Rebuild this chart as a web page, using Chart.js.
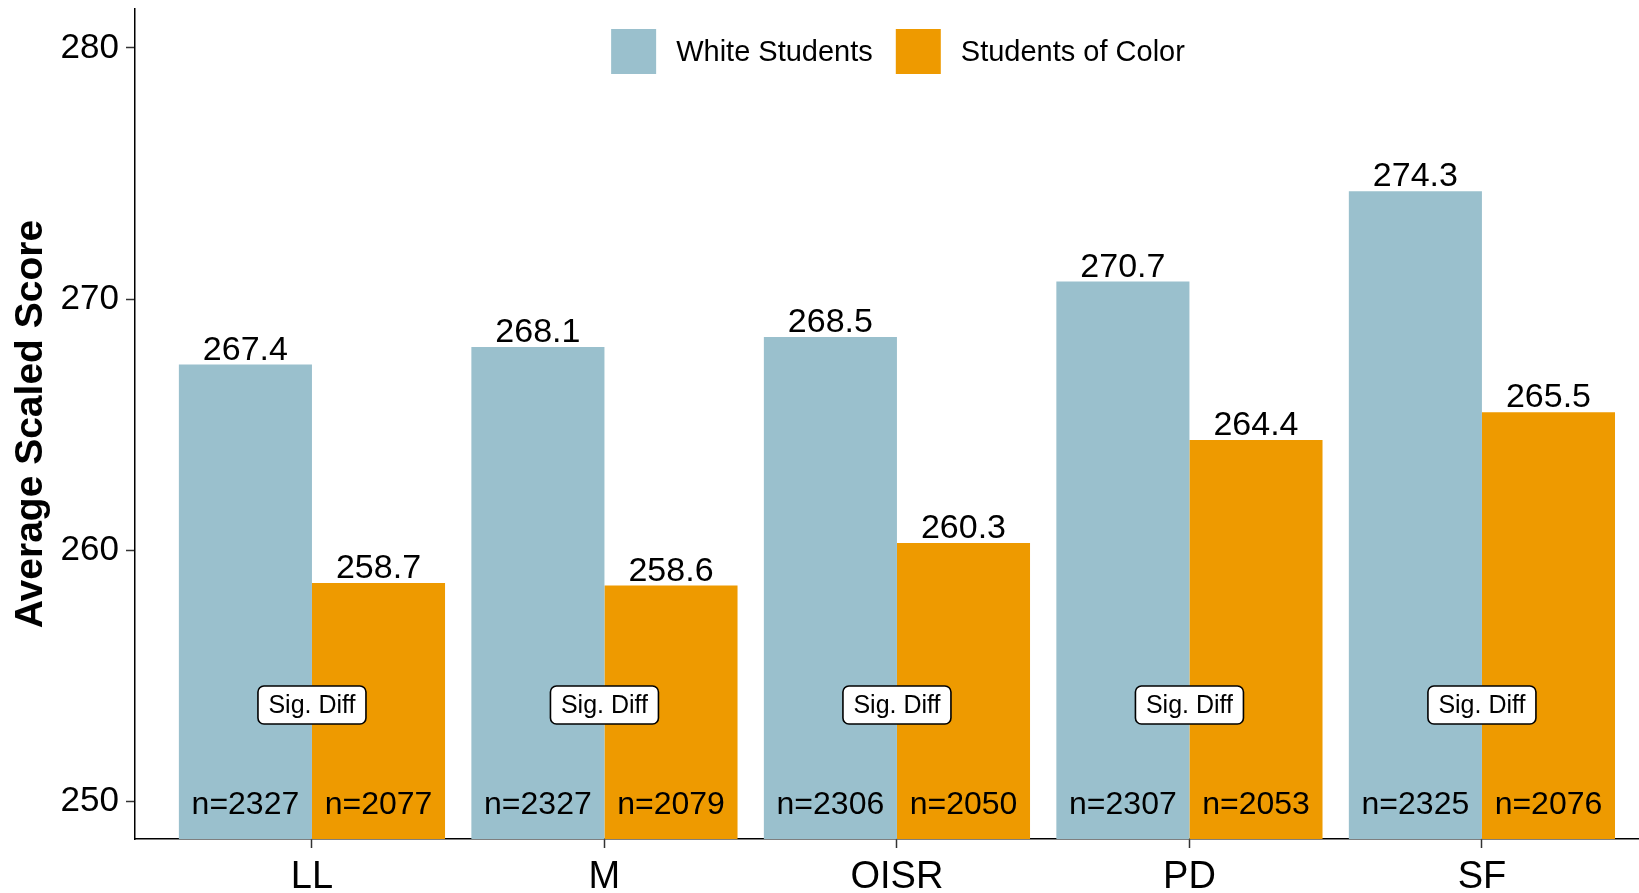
<!DOCTYPE html>
<html><head><meta charset="utf-8">
<script src="https://cdn.jsdelivr.net/npm/chart.js@4"></script>
<style>html,body{margin:0;padding:0;background:#fff;overflow:hidden}</style>
</head><body>
<canvas id="c" width="1639" height="893"></canvas>
<script>
const categories = ['LL', 'M', 'OISR', 'PD', 'SF'];
const whiteScores = [267.4, 268.1, 268.5, 270.7, 274.3];
const colorScores = [258.7, 258.6, 260.3, 264.4, 265.5];
const whiteN = [2327, 2327, 2306, 2307, 2325];
const colorN = [2077, 2079, 2050, 2053, 2076];
const sigDiff = [true, true, true, true, true];
const seriesNames = ['White Students', 'Students of Color'];
const seriesColors = ['#9AC0CD', '#EE9A00'];
const yTicks = [250, 260, 270, 280];
const sigLabelValue = 253.85;
const nLabelValue = 250;

const FONT = '"Liberation Sans", Arial, sans-serif';
Chart.defaults.font.family = FONT;
Chart.defaults.color = '#000';

const annot = {
  id: 'annot',
  afterDatasetsDraw(chart) {
    const ctx = chart.ctx, ys = chart.scales.y, xs = chart.scales.x;
    const vals = [whiteScores, colorScores], ns = [whiteN, colorN];
    ctx.save();
    ctx.fillStyle = '#000';
    ctx.textAlign = 'center';
    ctx.textBaseline = 'alphabetic';
    [0, 1].forEach(d => {
      chart.getDatasetMeta(d).data.forEach((bar, i) => {
        ctx.font = '34px ' + FONT;
        ctx.fillText(vals[d][i].toFixed(1), bar.x, bar.y - 5);
        ctx.font = '32px ' + FONT;
        ctx.fillText('n=' + ns[d][i], bar.x, ys.getPixelForValue(nLabelValue) + 12);
      });
    });
    categories.forEach((c, i) => {
      if (!sigDiff[i]) return;
      const cx = xs.getPixelForValue(i), cy = ys.getPixelForValue(sigLabelValue);
      const w = 108, h = 38;
      ctx.beginPath();
      ctx.roundRect(cx - w / 2, cy - h / 2, w, h, 6);
      ctx.fillStyle = '#fff';
      ctx.fill();
      ctx.lineWidth = 1.6;
      ctx.strokeStyle = '#000';
      ctx.stroke();
      ctx.fillStyle = '#000';
      ctx.font = '25px ' + FONT;
      ctx.textBaseline = 'middle';
      ctx.fillText('Sig. Diff', cx, cy + 1);
      ctx.textBaseline = 'alphabetic';
    });
    // legend
    ctx.font = '29px ' + FONT;
    const box = 45, gap = 20, spacing = 23;
    const w1 = ctx.measureText(seriesNames[0]).width, w2 = ctx.measureText(seriesNames[1]).width;
    const total = box + gap + w1 + spacing + box + gap + w2;
    let x = 898 - total / 2;
    const top = 29;
    ctx.textAlign = 'left';
    ctx.textBaseline = 'middle';
    [0, 1].forEach(d => {
      ctx.fillStyle = seriesColors[d];
      ctx.fillRect(x, top, box, box);
      ctx.fillStyle = '#000';
      ctx.fillText(seriesNames[d], x + box + gap, top + box / 2 + 1);
      x += box + gap + (d === 0 ? w1 : w2) + spacing;
    });
    ctx.restore();
  }
};

new Chart(document.getElementById('c'), {
  type: 'bar',
  data: {
    datasets: [
      { label: seriesNames[0], data: whiteScores.map((v, i) => ({ x: i, y: v })), backgroundColor: seriesColors[0], borderWidth: 0, categoryPercentage: 0.91, barPercentage: 1 },
      { label: seriesNames[1], data: colorScores.map((v, i) => ({ x: i, y: v })), backgroundColor: seriesColors[1], borderWidth: 0, categoryPercentage: 0.91, barPercentage: 1 }
    ]
  },
  options: {
    responsive: false,
    animation: false,
    devicePixelRatio: 1,
    layout: { padding: { top: 9, right: 0, left: 0, bottom: 0 } },
    plugins: { legend: { display: false }, tooltip: { enabled: false } },
    scales: {
      x: {
        type: 'linear',
        min: -0.605,
        max: 4.537,
        offset: false,
        afterBuildTicks: s => { s.ticks = categories.map((c, i) => ({ value: i })); },
        afterFit: s => { s.height = 54; s.paddingLeft = 0; s.paddingRight = 0; },
        grid: { offset: false, drawOnChartArea: false, drawTicks: true, tickLength: 9, tickColor: '#333', tickWidth: 1.5 },
        border: { display: true, color: '#000', width: 1.5 },
        ticks: { font: { size: 38 }, color: '#000', padding: 7, maxRotation: 0, callback: v => categories[v] ?? '' }
      },
      y: {
        type: 'linear',
        min: 248.515,
        max: 281.55,
        afterBuildTicks: s => { s.ticks = yTicks.map(v => ({ value: v })); },
        afterFit: s => { s.width = 135; s.paddingTop = 0; s.paddingBottom = 0; },
        grid: { drawOnChartArea: false, drawTicks: true, tickLength: 9, tickColor: '#333', tickWidth: 1.5 },
        border: { display: true, color: '#000', width: 1.5 },
        ticks: { font: { size: 35 }, color: '#000', padding: 7 },
        title: { display: true, text: 'Average Scaled Score', font: { size: 39, weight: 'bold' }, color: '#000', padding: { top: 8, bottom: 0 } }
      }
    }
  },
  plugins: [annot]
});
</script>
</body></html>
